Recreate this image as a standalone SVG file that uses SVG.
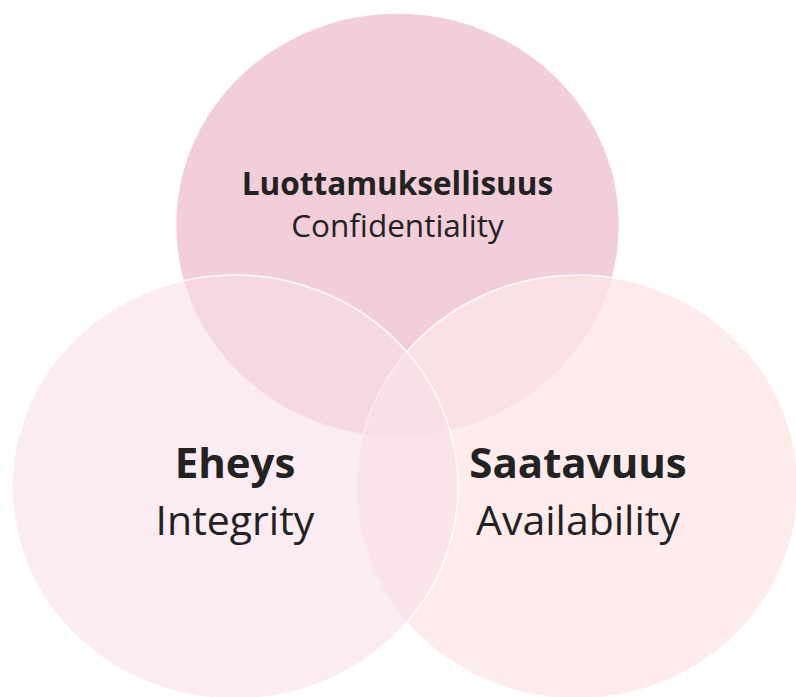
<svg xmlns="http://www.w3.org/2000/svg" width="796" height="697" viewBox="0 0 796 697">
  <style>
    .ring { stroke: #ffffff; stroke-width: 1.6; stroke-opacity: 0.9; }
    .lbl { font-family: "Open Sans", "Noto Sans", "DejaVu Sans", sans-serif; fill: #222222; text-anchor: middle; }
    .b { font-weight: 700; }
    .r { font-weight: 400; }
  </style>
  <rect width="796" height="697" fill="#ffffff"/>

  <g id="confidentiality">
    <ellipse class="ring" cx="397.5" cy="225" rx="222" ry="212" fill="#F2CEDB"/>
    <text class="lbl b" x="397.5" y="195" font-size="31.5">Luottamuksellisuus</text>
    <text class="lbl r" x="397.5" y="237" font-size="31.5">Confidentiality</text>
  </g>

  <g id="availability">
    <ellipse class="ring" cx="577" cy="487" rx="221" ry="212" fill="#FEE6E6" fill-opacity="0.8"/>
  </g>

  <g id="integrity">
    <ellipse class="ring" cx="235" cy="487" rx="223" ry="212" fill="#F8DEE9" fill-opacity="0.6"/>
  </g>

  <g id="labels-bottom">
    <text class="lbl b" x="235" y="478" font-size="42">Eheys</text>
    <text class="lbl r" x="235" y="535" font-size="41">Integrity</text>
    <text class="lbl b" x="578" y="478" font-size="42">Saatavuus</text>
    <text class="lbl r" x="578" y="535" font-size="41">Availability</text>
  </g>
</svg>
